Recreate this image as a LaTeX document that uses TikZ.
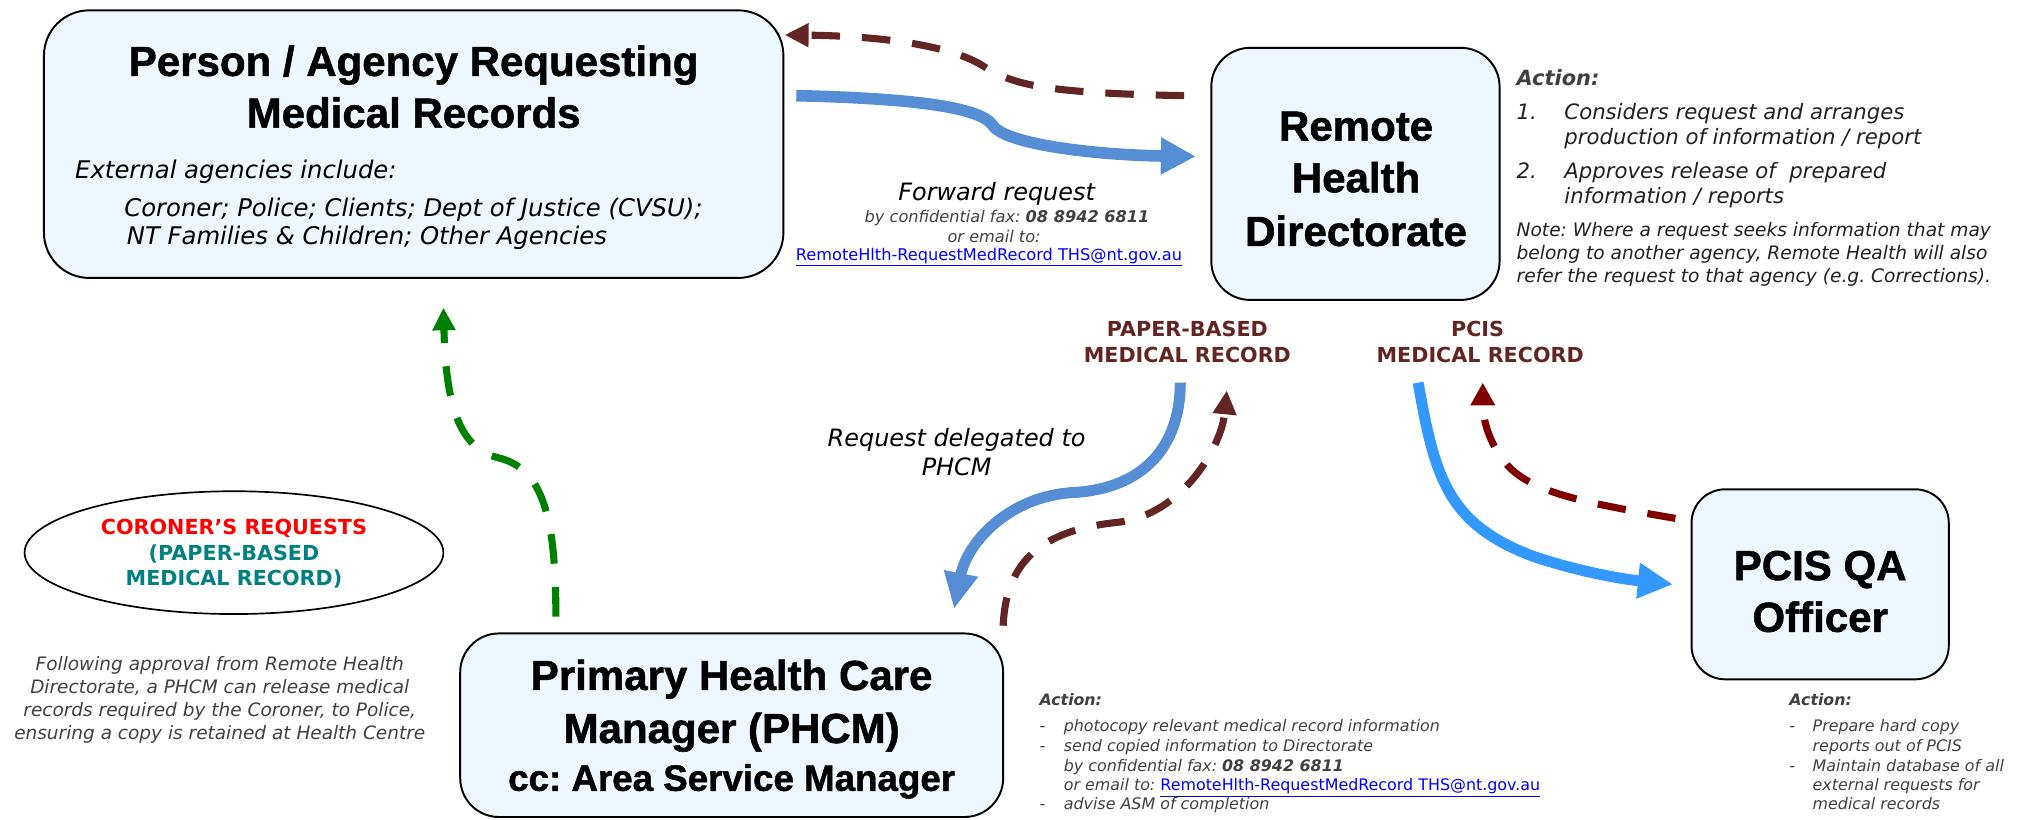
\documentclass[tikz,border=0pt]{standalone}
\usepackage{fontspec}
\setmainfont{DejaVu Sans}[
  BoldFont={DejaVu Sans Bold},
  ItalicFont={DejaVu Sans Oblique},
  BoldItalicFont={DejaVu Sans Bold Oblique}]
\newfontfamily\titlefont{Liberation Sans}[BoldFeatures={FakeBold=1.2}]
\usetikzlibrary{arrows.meta,shapes.geometric}
\frenchspacing

\definecolor{boxfill}{RGB}{238,246,255}
\definecolor{maroonc}{RGB}{99,37,35}
\definecolor{darkredc}{RGB}{128,0,0}
\definecolor{bluea}{RGB}{85,142,213}
\definecolor{blueb}{RGB}{51,153,255}
\definecolor{greenc}{RGB}{0,128,0}
\definecolor{tealc}{RGB}{0,128,128}
\definecolor{redc}{RGB}{255,0,0}
\definecolor{linkc}{RGB}{0,0,255}
\definecolor{greytext}{RGB}{64,64,64}

\newcommand{\fs}[2]{\fontsize{#1}{#2}\selectfont}
\newcommand{\maillink}{\textcolor{linkc}{\upshape\underline{RemoteHlth-RequestMedRecord THS@nt.gov.au}}}

\begin{document}
\begin{tikzpicture}[x=1pt,y=-1pt,
  box/.style={draw=black,line width=1.5pt,fill=boxfill,inner sep=0pt},
  ttl/.style={font=\titlefont\bfseries\fs{32.5}{40},anchor=mid,inner sep=0pt},
  ttlsub/.style={font=\titlefont\bfseries\fs{28.4}{34},anchor=mid,inner sep=0pt},
  agency/.style={font=\itshape\fs{18.8}{22},anchor=mid west,inner sep=0pt},
  stepline/.style={font=\itshape\fs{16.4}{20},text=black!87,anchor=mid west,inner sep=0pt},
  noteline/.style={font=\itshape\fs{14.4}{18},text=black!87,anchor=mid west,inner sep=0pt},
  flowlbl/.style={font=\itshape\fs{18.5}{22},anchor=mid,inner sep=0pt},
  faxline/.style={font=\itshape\fs{12.5}{15},text=greytext,anchor=mid,inner sep=0pt},
  reclbl/.style={font=\bfseries\fs{16}{20},text=maroonc,anchor=mid,inner sep=0pt},
  corlbl/.style={font=\bfseries\fs{16}{20},anchor=mid,inner sep=0pt},
  corpara/.style={font=\itshape\fs{14.3}{17},text=greytext,anchor=mid,inner sep=0pt},
  acthead/.style={font=\bfseries\itshape\fs{16.2}{20},text=greytext,anchor=mid west,inner sep=0pt},
  bacthead/.style={font=\bfseries\itshape\fs{12.2}{15},text=greytext,anchor=mid west,inner sep=0pt},
  bact/.style={font=\itshape\fs{12.3}{15},text=greytext,anchor=mid west,inner sep=0pt},
  flowblue/.style={draw=bluea,line width=9pt,-{Triangle[length=27pt,width=27pt]}},
  flowbluedown/.style={draw=bluea,line width=8.5pt,-{Triangle[length=28pt,width=25pt]}},
  flowpcis/.style={draw=blueb,line width=8.5pt,-{Triangle[length=27pt,width=26pt]}},
  retmaroon/.style={draw=maroonc,line width=5.5pt,dash pattern=on 22pt off 17pt,-{Triangle[length=18.5pt,width=17.5pt]}},
  retred/.style={draw=darkredc,line width=5.5pt,dash pattern=on 22pt off 17pt,-{Triangle[length=17.5pt,width=18pt]}},
  retgreen/.style={draw=greenc,line width=5.5pt,dash pattern=on 23pt off 18pt,-{Triangle[length=17.5pt,width=17pt]}}
]
\useasboundingbox (0,0) rectangle (1568,634);

% ---------- boxes ----------
\node[box,rounded corners=35pt,minimum width=572pt,minimum height=207pt] (req) at (320,111.5) {};
\node[box,rounded corners=30pt,minimum width=223pt,minimum height=195pt] (rhd) at (1048.5,134.5) {};
\node[box,rounded corners=30pt,minimum width=420pt,minimum height=142pt] (phcm) at (566,561) {};
\node[box,rounded corners=26pt,minimum width=199pt,minimum height=147pt] (pcis) at (1408,452) {};
\node[draw=black,line width=1.3pt,ellipse,minimum width=324pt,minimum height=95pt,inner sep=0pt] (cor) at (181,427.5) {};

% ---------- requesting agency ----------
\node[ttl] (reqT1) at (320,56) {Person / Agency Requesting};
\node[ttl] (reqT2) at (320,96) {Medical Records};
\node[agency] (reqE) at (58,135) {External agencies include:};
\node[agency] (reqL1) at (96,164.5) {Coroner; Police; Clients; Dept of Justice (CVSU);};
\node[agency] (reqL2) at (98,186.5) {NT Families \& Children; Other Agencies};

% ---------- directorate ----------
\node[ttl] (rhdT1) at (1049,106) {Remote};
\node[ttl] (rhdT2) at (1049,146) {Health};
\node[ttl] (rhdT3) at (1049,187.5) {Directorate};

\node[acthead] (rhdA) at (1173,63.5) {Action:};
\node[stepline] (rhdN1) at (1173,89.5) {1.};
\node[stepline] (rhdS1a) at (1210,89.5) {Considers request and arranges};
\node[stepline] (rhdS1b) at (1210,109) {production of information / report};
\node[stepline] (rhdN2) at (1173,135.5) {2.};
\node[stepline] (rhdS2a) at (1210,135.5) {Approves release of\ \ prepared};
\node[stepline] (rhdS2b) at (1210,155) {information / reports};
\node[noteline] (rhdNa) at (1173,180) {Note: Where a request seeks information that may};
\node[noteline] (rhdNb) at (1173,198) {belong to another agency, Remote Health will also};
\node[noteline] (rhdNc) at (1173,216) {refer the request to that agency (e.g. Corrections).};

% ---------- forwarding label ----------
\node[flowlbl] (fwd1) at (771,152.5) {Forward request};
\node[faxline] (fwd2) at (779,169.5) {by confidential fax: \textbf{08 8942 6811}};
\node[faxline] (fwd3) at (769,184.5) {or email to:};
\node[faxline] (fwd4) at (765,198.5) {\maillink};

% ---------- record type labels ----------
\node[reclbl] (pb1) at (918.5,257.5) {PAPER-BASED};
\node[reclbl] (pb2) at (918.5,278) {MEDICAL RECORD};
\node[reclbl] (pc1) at (1143,257.5) {PCIS};
\node[reclbl] (pc2) at (1145,278) {MEDICAL RECORD};

\node[flowlbl] (dlg1) at (740,343) {Request delegated to};
\node[flowlbl] (dlg2) at (740,365) {PHCM};

% ---------- coroner ----------
\node[corlbl,text=redc] (cor1) at (181,411) {CORONER’S REQUESTS};
\node[corlbl,text=tealc] (cor2) at (181,430.5) {(PAPER-BASED};
\node[corlbl,text=tealc] (cor3) at (181,450.5) {MEDICAL RECORD)};

\node[corpara] (cp1) at (170,516) {Following approval from Remote Health};
\node[corpara] (cp2) at (170,534) {Directorate, a PHCM can release medical};
\node[corpara] (cp3) at (170,551.5) {records required by the Coroner, to Police,};
\node[corpara] (cp4) at (170,569) {ensuring a copy is retained at Health Centre};

% ---------- PHCM ----------
\node[ttl] (phT1) at (566,531) {Primary Health Care};
\node[ttl] (phT2) at (566,572) {Manager (PHCM)};
\node[ttlsub] (phT3) at (566,609) {cc: Area Service Manager};

\node[bacthead] (phA) at (804,543) {Action:};
\node[bact] (phD1) at (804,563.5) {-};
\node[bact] (phI1) at (822.7,563.5) {photocopy relevant medical record information};
\node[bact] (phD2) at (804,578.8) {-};
\node[bact] (phI2) at (822.7,578.8) {send copied information to Directorate};
\node[bact] (phI3) at (822.7,593.7) {by confidential fax: \textbf{08 8942 6811}};
\node[bact] (phI4) at (822.7,608.9) {or email to: \maillink};
\node[bact] (phD5) at (804,623.3) {-};
\node[bact] (phI5) at (822.7,623.3) {advise ASM of completion};

% ---------- PCIS QA officer ----------
\node[ttl] (pqT1) at (1408,446) {PCIS QA};
\node[ttl] (pqT2) at (1408,486) {Officer};

\node[bacthead] (pqA) at (1384,543) {Action:};
\node[bact] (pqD1) at (1384,563.5) {-};
\node[bact] (pqI1) at (1402,563.5) {Prepare hard copy};
\node[bact] (pqI2) at (1402,578.8) {reports out of PCIS};
\node[bact] (pqD3) at (1384,593.7) {-};
\node[bact] (pqI3) at (1402,593.7) {Maintain database of all};
\node[bact] (pqI4) at (1402,608.9) {external requests for};
\node[bact] (pqI5) at (1402,623.3) {medical records};

% ---------- connector end points ----------
\coordinate (fwdS) at (616,74);
\coordinate (fwdE) at (925,121);
\coordinate (retS) at (916,74);
\coordinate (retE) at (607,27);
\coordinate (dlgS) at (913,296);
\coordinate (dlgE) at (738,471);
\coordinate (cpyS) at (776,484);
\coordinate (cpyE) at (949,302);
\coordinate (pcsS) at (1097,296);
\coordinate (pcsE) at (1294,452);
\coordinate (pqrS) at (1296,401);
\coordinate (pqrE) at (1147,296);
\coordinate (relS) at (430,477);
\coordinate (relE) at (343,238);

% ---------- connectors ----------
\draw[flowblue] (fwdS) .. controls (700,76) and (758,82) .. (768,97)
                .. controls (778,112) and (850,120) .. (fwdE);
\draw[retmaroon] (retS) .. controls (810,72) and (785,66) .. (762,52)
                 .. controls (740,37) and (690,28) .. (retE);
\draw[flowbluedown] (dlgS) .. controls (913,345) and (885,378) .. (830,381)
                    .. controls (780,384) and (748,420) .. (dlgE);
\draw[retmaroon] (cpyS) .. controls (778,435) and (805,410) .. (865,404)
                 .. controls (915,398) and (945,345) .. (cpyE);
\draw[flowpcis] (pcsS) .. controls (1110,370) and (1120,405) .. (1185,430)
                .. controls (1220,442) and (1255,448) .. (pcsE);
\draw[retred] (pqrS) .. controls (1220,388) and (1180,380) .. (1162,355)
              .. controls (1150,338) and (1147,322) .. (pqrE);
\draw[retgreen] (relS) .. controls (430,400) and (420,362) .. (385,354)
                .. controls (358,347) and (345,320) .. (relE);
\end{tikzpicture}
\end{document}
